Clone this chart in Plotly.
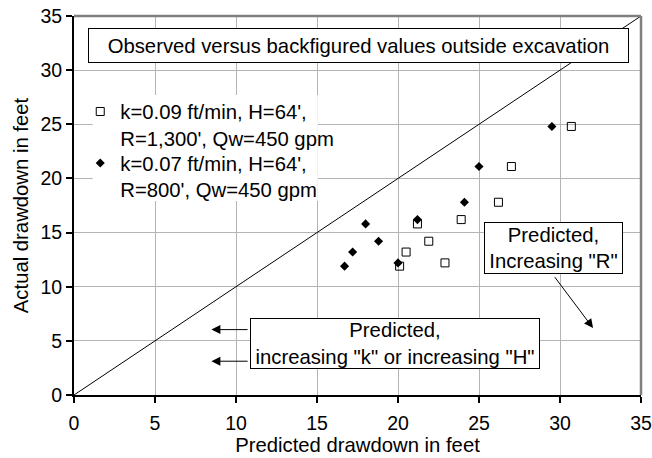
import plotly.graph_objects as go

# Actual (observed) drawdown, ft
actual = [11.9, 12.2, 13.2, 14.2, 15.8, 16.2, 17.8, 21.1, 24.8]
# Predicted drawdown, ft  (k=0.09 ft/min, R=1,300')
pred_r1300 = [20.1, 22.9, 20.5, 21.9, 21.2, 23.9, 26.2, 27.0, 30.7]
# Predicted drawdown, ft  (k=0.07 ft/min, R=800')
pred_r800 = [16.7, 20.0, 17.2, 18.8, 18.0, 21.2, 24.1, 25.0, 29.5]
# 1:1 line
line_x = [0, 35]
line_y = [0, 35]

name_sq = "k=0.09 ft/min, H=64',<br>R=1,300', Qw=450 gpm"
name_dm = "k=0.07 ft/min, H=64',<br>R=800', Qw=450 gpm"

FONT = "Liberation Sans, Arial, sans-serif"
FS = 20.3

fig = go.Figure()
fig.add_trace(go.Scatter(x=line_x, y=line_y, mode="lines",
                         line=dict(color="black", width=1), showlegend=False,
                         hoverinfo="skip"))
fig.add_trace(go.Scatter(x=pred_r1300, y=actual, mode="markers", name=name_sq,
                         marker=dict(symbol="square-open", size=8, color="black",
                                     line=dict(width=1, color="black")),
                         legend="legend"))
fig.add_trace(go.Scatter(x=pred_r800, y=actual, mode="markers", name=name_dm,
                         marker=dict(symbol="diamond", size=7, color="black"),
                         legend="legend2"))

axis_common = dict(range=[0, 35], dtick=5, showgrid=True, gridcolor="#b4b4b4",
                   gridwidth=1, zeroline=False, showline=True, linecolor="black",
                   linewidth=2, ticks="outside", ticklen=6, tickwidth=2,
                   tickcolor="black", ticklabeloverflow="allow",
                   tickfont=dict(size=19.5, color="black", family=FONT))

fig.update_layout(
    width=652, height=458, autosize=False,
    margin=dict(l=74, r=11, t=16, b=63, pad=0),
    paper_bgcolor="white", plot_bgcolor="white",
    font=dict(family=FONT, size=FS, color="black"),
    xaxis=dict(**axis_common, automargin=False, ticklabelstandoff=4,
               title=dict(text="Predicted drawdown in feet", font=dict(size=FS), standoff=0)),
    yaxis=dict(**axis_common, automargin=False,
               title=dict(text="Actual drawdown in feet", font=dict(size=FS), standoff=6)),
    legend=dict(x=0.011, y=0.8, xanchor="left", yanchor="top",
                bgcolor="rgba(0,0,0,0)", borderwidth=0, valign="top",
                font=dict(size=FS), itemwidth=30, tracegroupgap=0),
    legend2=dict(x=0.011, y=0.664, xanchor="left", yanchor="top",
                 bgcolor="rgba(0,0,0,0)", borderwidth=0, valign="top",
                 font=dict(size=FS), itemwidth=30, tracegroupgap=0),
    showlegend=True,
)

# white backing behind the legend texts (hides gridlines)
fig.add_shape(type="rect", xref="paper", yref="paper", x0=0.033, x1=0.43,
              y0=0.512, y1=0.7916, fillcolor="white", line=dict(width=0),
              layer="above")

# grey top/right frame
fig.add_shape(type="line", xref="paper", yref="paper", x0=0, x1=1, y0=1, y1=1,
              line=dict(color="#808080", width=2.5))
fig.add_shape(type="line", xref="paper", yref="paper", x0=1, x1=1, y0=0, y1=1,
              line=dict(color="#808080", width=2.5))

box = dict(xref="paper", yref="paper", showarrow=False, bgcolor="white",
           bordercolor="black", borderwidth=1, borderpad=0, align="center",
           xanchor="center", yanchor="middle", font=dict(size=FS, color="black"))
fig.add_annotation(text="Observed versus backfigured values outside excavation",
                   x=0.5015, y=0.9216, width=539, height=33, **box)
fig.add_annotation(text="Predicted,<br>Increasing \"R\"",
                   x=0.8456, y=0.3879, width=137, height=50, **box)
fig.add_annotation(text="Predicted,<br>increasing \"k\" or increasing \"H\"",
                   x=0.5655, y=0.1363, width=288, height=49, **box)

arrow = dict(xref="x", yref="y", axref="x", ayref="y", text="", showarrow=True,
             arrowhead=2, arrowsize=1.8, arrowwidth=1, arrowcolor="black")
fig.add_annotation(x=8.48, y=6.04, ax=10.81, ay=6.04, **arrow)
fig.add_annotation(x=8.48, y=3.12, ax=10.81, ay=3.12, **arrow)
fig.add_annotation(x=32.04, y=6.18, ax=29.61, ay=11.02, **arrow)

fig.write_html("out.html", config={"displayModeBar": False},
               post_script="document.body.style.margin='0';")
